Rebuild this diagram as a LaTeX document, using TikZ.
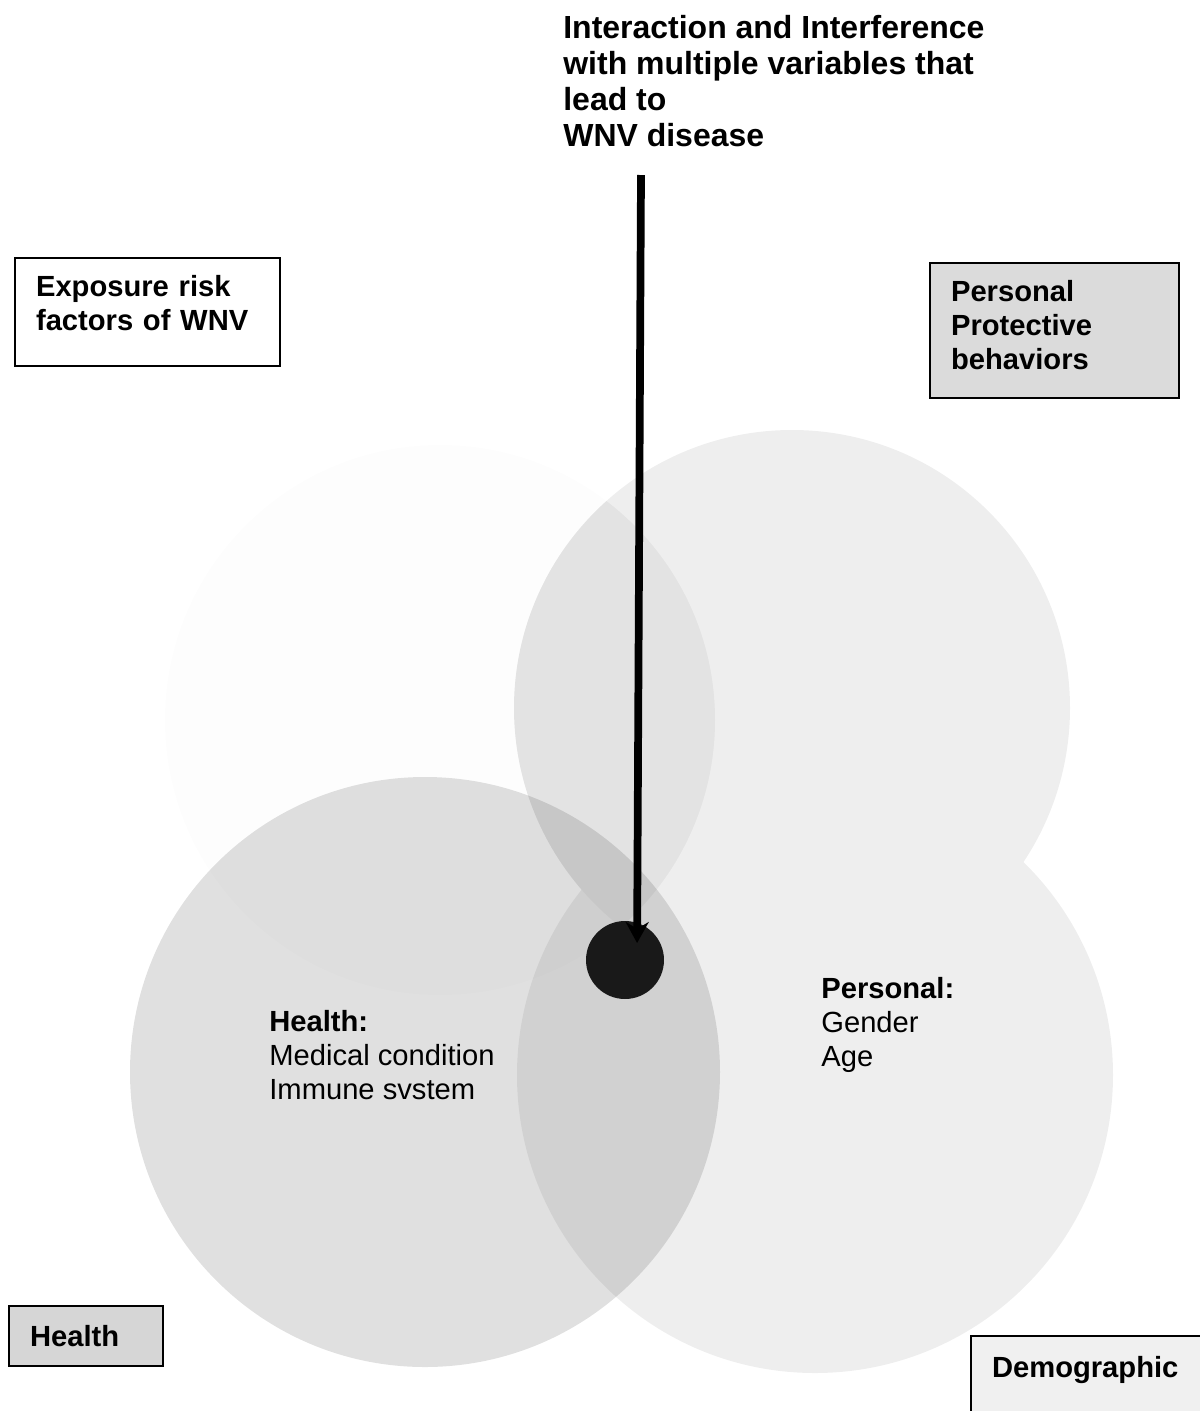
\documentclass[tikz,border=0pt]{standalone}
\usepackage{fontspec}
\setmainfont{Liberation Sans}
\usetikzlibrary{arrows.meta, positioning}

\newcommand{\bodysize}{\fontsize{16.6}{19.35}\selectfont}
\newcommand{\titlesize}{\fontsize{18.2}{20.5}\selectfont}

\begin{document}
\begin{tikzpicture}[x=0.02cm, y=-0.02cm, >=Stealth,
    venn/.style={fill=black, draw=none},
    factorbox/.style={draw, line width=1.2pt, anchor=north west, align=left,
        inner xsep=0.42cm, inner ysep=0pt, font=\bodysize\bfseries},
    intext/.style={anchor=north west, inner sep=0pt, align=left, font=\bodysize},
    titletext/.style={anchor=north west, inner sep=0pt, align=left, font=\titlesize\bfseries}]

    % Page frame (pixel units of the original)
    \useasboundingbox (0,0) rectangle (1200,1411);

    % Circle centres
    \coordinate (cexpo) at (440,720);
    \coordinate (cprot) at (792,708);
    \coordinate (chealth) at (425,1072);
    \coordinate (cdemo) at (815,1075);

    % Overlapping circles
    \fill[venn, fill opacity=0.006] (cexpo) circle (275);
    \begin{scope}[transparency group, opacity=0.065]
        \fill[venn] (cprot) circle (278);
        \fill[venn] (cdemo) circle (298);
    \end{scope}
    \begin{scope}
        \clip (cexpo) circle (275);
        \fill[venn, fill opacity=0.04] (cprot) circle (278);
    \end{scope}
    \fill[venn, fill opacity=0.12] (chealth) circle (295);

    % Disease point and arrow
    \node[circle, fill=black!90, minimum size=1.56cm, inner sep=0pt] (wnvdot) at (625,960) {};
    \coordinate (arrtop) at (641,175);
    \draw[-{Stealth[length=0.42cm, width=0.46cm]}, line width=4.4pt, shorten >=0.34cm]
        (arrtop) -- ([xshift=0.24cm]wnvdot.center);

    % Title
    \node[titletext] (title) at (563,15) {Interaction and Interference\\with multiple variables that\\lead to\\WNV disease};

    % Texts inside circles
    \node[intext] (healthtxt) at (269,1010) {\textbf{Health:}\\Medical condition\\Immune svstem};
    \node[intext] (persontxt) at (821,977) {\textbf{Personal:}\\Gender\\Age};

    % Factor boxes
    \node[factorbox, fill=white, text width=4.46cm, text height=0.76cm, text depth=1.40cm]
        (expo) at (14,257) {Exposure risk\\factors of WNV};
    \node[factorbox, fill=black!14, text width=4.14cm, text height=0.76cm, text depth=1.94cm]
        (protect) at (929,262) {Personal\\Protective\\behaviors};
    \node[factorbox, fill=black!16, text width=2.24cm, text height=0.81cm, text depth=0.39cm]
        (healthbox) at (8,1305) {Health};
    \node[factorbox, fill=black!6, text width=4.36cm, text height=0.83cm, text depth=1.27cm]
        (demo) at (970,1335) {Demographic};

\end{tikzpicture}
\end{document}
